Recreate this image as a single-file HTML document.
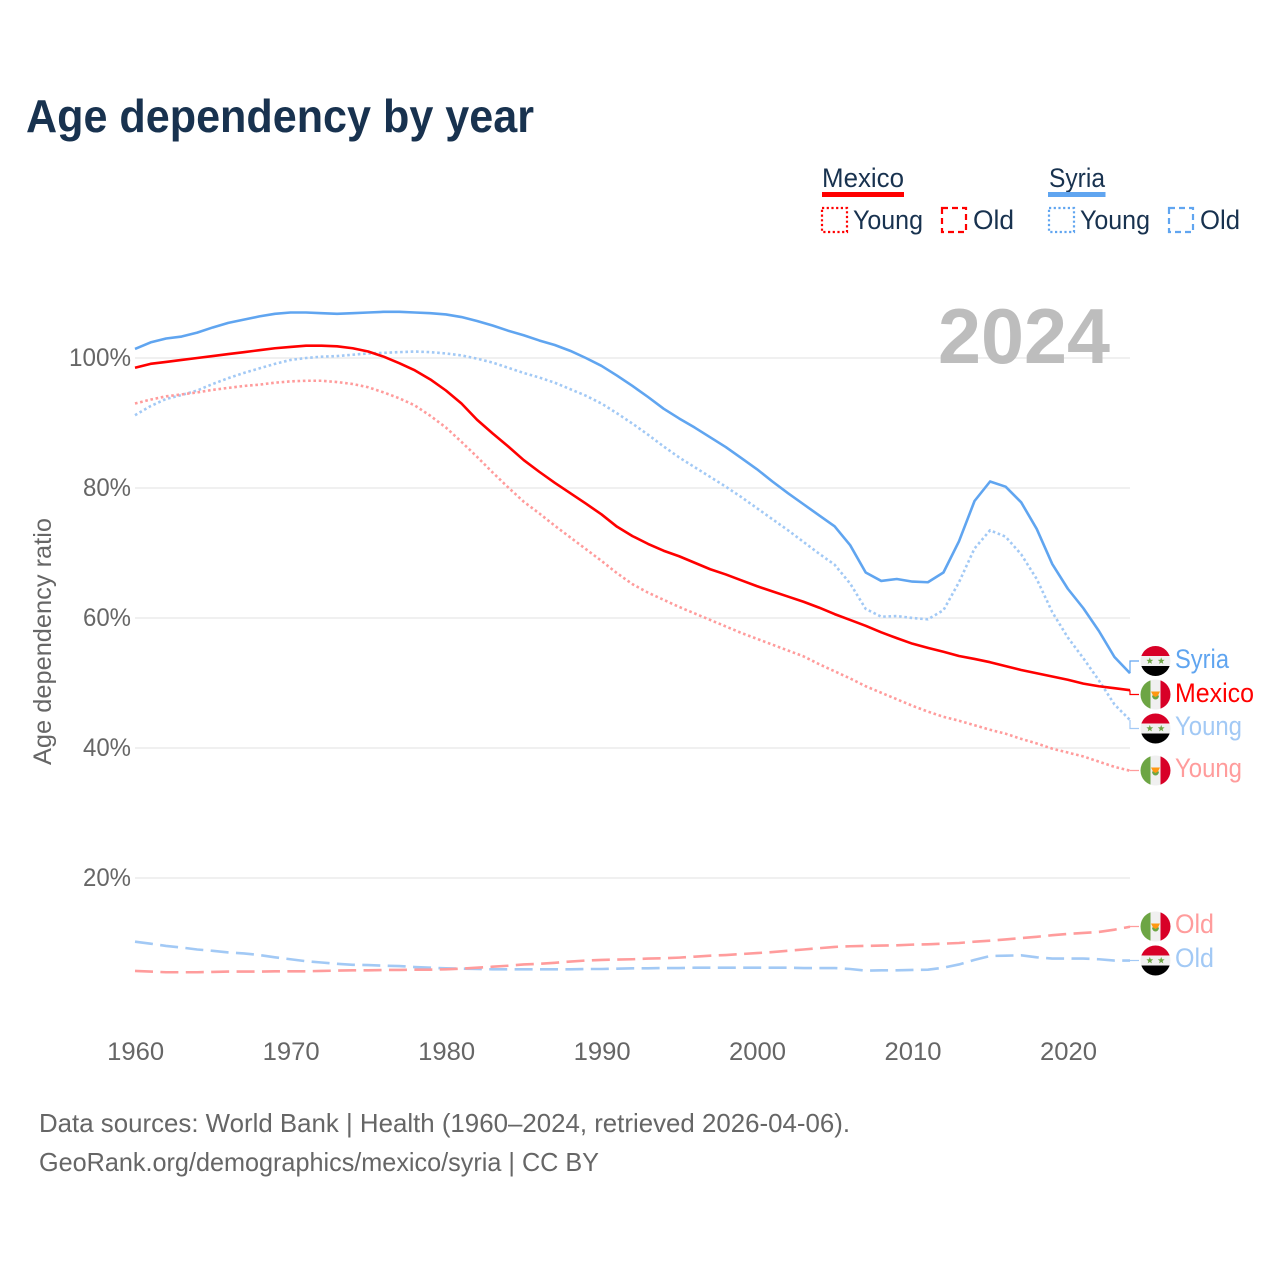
<!DOCTYPE html>
<html lang="en">
<head>
<meta charset="utf-8">
<title>Age dependency by year</title>
<style>
html,body{margin:0;padding:0;background:#fff;}
svg{display:block;font-family:"Liberation Sans",sans-serif;}
</style>
</head>
<body>
<svg id="chart" xmlns="http://www.w3.org/2000/svg" width="1280" height="1280" viewBox="0 0 1280 1280">
  <defs>
    <clipPath id="flag-clip"><circle cx="0" cy="0" r="15"></circle></clipPath>
  </defs>
  <rect x="0" y="0" width="1280" height="1280" fill="#ffffff"></rect>
  <text x="26" y="132" font-size="46" font-weight="700" fill="#18324f" textLength="508" lengthAdjust="spacingAndGlyphs">Age dependency by year</text>

  <g>
    <g>
      <text x="822" y="187" font-size="27" fill="#18324f" textLength="82" lengthAdjust="spacingAndGlyphs">Mexico</text>
      <rect x="822" y="192" width="82" height="5" fill="#ff0000"></rect>
      <rect x="822" y="208" width="25" height="24" fill="none" stroke="#ff0000" stroke-width="2.2" stroke-dasharray="2.2 2.5"></rect>
      <text x="853" y="229" font-size="27" fill="#18324f" textLength="70" lengthAdjust="spacingAndGlyphs">Young</text>
      <rect x="942" y="208" width="24" height="24" fill="none" stroke="#ff0000" stroke-width="2.2" stroke-dasharray="6 4"></rect>
      <text x="973" y="229" font-size="27" fill="#18324f" textLength="41" lengthAdjust="spacingAndGlyphs">Old</text>
    </g>
    <g>
      <text x="1049" y="187" font-size="27" fill="#18324f" textLength="56" lengthAdjust="spacingAndGlyphs">Syria</text>
      <rect x="1048" y="192" width="57.500" height="5" fill="#60a5f0"></rect>
      <rect x="1049" y="208" width="25" height="24" fill="none" stroke="#60a5f0" stroke-width="2.2" stroke-dasharray="2.2 2.5"></rect>
      <text x="1080" y="229" font-size="27" fill="#18324f" textLength="70" lengthAdjust="spacingAndGlyphs">Young</text>
      <rect x="1169" y="208" width="24" height="24" fill="none" stroke="#60a5f0" stroke-width="2.2" stroke-dasharray="6 4"></rect>
      <text x="1200" y="229" font-size="27" fill="#18324f" textLength="40" lengthAdjust="spacingAndGlyphs">Old</text>
    </g>
  </g>

  <g id="grid"></g>
  <text x="938" y="363" font-size="78" font-weight="700" fill="#bdbdbd" textLength="172" lengthAdjust="spacingAndGlyphs">2024</text>
  <text transform="translate(51 765) rotate(-90)" x="0" y="0" font-size="25" fill="#666666" textLength="247" lengthAdjust="spacingAndGlyphs">Age dependency ratio</text>
  <g id="y-ticks"></g>
  <g id="x-ticks"></g>
  <g id="series"></g>
  <g id="end-labels"></g>

  <text x="39" y="1132" font-size="26" fill="#666666" textLength="811" lengthAdjust="spacingAndGlyphs">Data sources: World Bank | Health (1960–2024, retrieved 2026-04-06).</text>
  <text x="39" y="1171" font-size="26" fill="#666666" textLength="560" lengthAdjust="spacingAndGlyphs">GeoRank.org/demographics/mexico/syria | CC BY</text>
</svg>
<script>
const years = [1960,1961,1962,1963,1964,1965,1966,1967,1968,1969,1970,1971,1972,1973,1974,1975,1976,1977,1978,1979,1980,1981,1982,1983,1984,1985,1986,1987,1988,1989,1990,1991,1992,1993,1994,1995,1996,1997,1998,1999,2000,2001,2002,2003,2004,2005,2006,2007,2008,2009,2010,2011,2012,2013,2014,2015,2016,2017,2018,2019,2020,2021,2022,2023,2024];
const syriaTotal = [101.4,102.4,103.0,103.3,103.9,104.7,105.4,105.9,106.4,106.8,107.0,107.0,106.9,106.8,106.9,107.0,107.1,107.1,107.0,106.9,106.7,106.3,105.7,105.0,104.2,103.5,102.7,102.0,101.1,100.0,98.8,97.3,95.7,94.0,92.2,90.7,89.3,87.8,86.3,84.6,82.9,81.0,79.2,77.5,75.8,74.1,71.2,67.0,65.7,66.0,65.6,65.5,67.0,71.8,78.0,81.0,80.2,77.8,73.7,68.3,64.5,61.5,58.0,54.0,51.5];
const mexicoTotal = [98.5,99.1,99.4,99.7,100.0,100.3,100.6,100.9,101.2,101.5,101.7,101.9,101.9,101.8,101.5,101.0,100.2,99.2,98.1,96.7,95.0,93.0,90.5,88.4,86.4,84.3,82.5,80.8,79.2,77.6,75.95,74.05,72.6,71.4,70.35,69.5,68.5,67.5,66.7,65.8,64.9,64.1,63.3,62.5,61.6,60.6,59.7,58.8,57.8,56.9,56.05,55.4,54.8,54.15,53.7,53.2,52.6,52.0,51.5,51.0,50.5,49.9,49.5,49.2,48.9];
const syriaYoung = [91.2,92.6,93.7,94.3,95.0,96.0,96.9,97.7,98.4,99.1,99.7,100.0,100.2,100.3,100.5,100.7,100.8,100.9,101.0,100.9,100.7,100.4,99.9,99.3,98.5,97.7,97.0,96.2,95.2,94.2,93.0,91.5,89.9,88.2,86.4,84.7,83.2,81.7,80.2,78.6,76.9,75.2,73.5,71.7,69.9,68.2,65.3,61.4,60.2,60.3,60.0,59.8,61.2,65.5,70.7,73.5,72.5,69.8,66.0,60.9,57.0,53.8,50.4,46.7,44.3];
const mexicoYoung = [93.0,93.6,94.1,94.4,94.7,95.1,95.4,95.7,95.9,96.2,96.4,96.5,96.5,96.3,96.0,95.5,94.7,93.8,92.7,91.1,89.3,87.1,84.8,82.4,80.1,77.9,76.1,74.2,72.4,70.6,68.8,66.9,65.2,63.9,62.8,61.7,60.7,59.7,58.7,57.7,56.8,55.9,55.0,54.1,52.9,51.8,50.7,49.5,48.5,47.5,46.5,45.6,44.8,44.2,43.5,42.8,42.2,41.4,40.7,39.9,39.3,38.7,37.9,37.1,36.5];
const syriaOld = [10.2,9.9,9.55,9.3,9.0,8.8,8.55,8.4,8.15,7.8,7.5,7.2,7.0,6.8,6.65,6.6,6.5,6.45,6.3,6.2,6.1,6.05,6.0,5.95,5.95,5.95,5.95,5.95,5.95,6.0,6.0,6.05,6.1,6.1,6.15,6.15,6.2,6.2,6.2,6.2,6.2,6.2,6.2,6.15,6.15,6.15,6.0,5.75,5.8,5.8,5.85,5.9,6.2,6.7,7.4,8.0,8.05,8.1,7.8,7.6,7.6,7.6,7.5,7.3,7.3];
const mexicoOld = [5.7,5.6,5.5,5.5,5.5,5.55,5.6,5.6,5.6,5.65,5.65,5.65,5.7,5.75,5.8,5.8,5.85,5.85,5.9,5.9,5.95,6.05,6.2,6.35,6.5,6.7,6.8,6.95,7.15,7.3,7.4,7.45,7.5,7.6,7.65,7.75,7.9,8.05,8.15,8.3,8.45,8.6,8.8,9.0,9.2,9.4,9.5,9.55,9.6,9.65,9.75,9.8,9.9,10.0,10.2,10.35,10.55,10.75,10.95,11.2,11.4,11.55,11.7,12.05,12.5];
const yTickValues = [20,40,60,80,100];
const xTickValues = [1960,1970,1980,1990,2000,2010,2020];

const NS = 'http://www.w3.org/2000/svg';
const RED = '#ff0000', BLUE = '#60a5f0', LIGHT_RED = '#ff9c9c', LIGHT_BLUE = '#a2c9f5';
const xScale = function (year) { return 135 + (year - 1960) * (1130 - 135) / 64; };
const yScale = function (value) { return 1008 - value * 6.5; };
const svgEl = function (tag, parent) {
  const el = document.createElementNS(NS, tag);
  parent.appendChild(el);
  return el;
};

const gridGroup = document.getElementById('grid');
const yTickGroup = document.getElementById('y-ticks');
yTickValues.forEach(function (value) {
  const line = svgEl('line', gridGroup);
  
  
  line.setAttribute('x1', 135);
  line.setAttribute('x2', 1130);
  line.setAttribute('y1', yScale(value));
  line.setAttribute('y2', yScale(value));
  line.setAttribute('stroke', '#e8e8e8');
  line.setAttribute('stroke-width', '1.2');
  const label = svgEl('text', yTickGroup);
  
  
  const text = value + '%';
  label.textContent = text;
  const width = value === 100 ? 62 : 48;
  label.setAttribute('x', 131 - width);
  label.setAttribute('y', yScale(value) + 8);
  label.setAttribute('font-size', '25');
  label.setAttribute('fill', '#666666');
  label.setAttribute('textLength', width);
  label.setAttribute('lengthAdjust', 'spacingAndGlyphs');
});

const xTickGroup = document.getElementById('x-ticks');
xTickValues.forEach(function (year) {
  const label = svgEl('text', xTickGroup);
  
  
  label.textContent = String(year);
  label.setAttribute('x', xScale(year) - 27.8);
  label.setAttribute('y', 1060);
  label.setAttribute('font-size', '25');
  label.setAttribute('fill', '#666666');
  label.setAttribute('textLength', 57);
  label.setAttribute('lengthAdjust', 'spacingAndGlyphs');
});

const seriesGroup = document.getElementById('series');
const drawLine = function (name, values, color, dash) {
  const line = svgEl('polyline', seriesGroup);
  
  
  line.setAttribute('points', values.map(function (value, i) {
    return xScale(years[i]).toFixed(2) + ',' + yScale(value).toFixed(2);
  }).join(' '));
  line.setAttribute('fill', 'none');
  line.setAttribute('stroke', color);
  line.setAttribute('stroke-width', '2.6');
  line.setAttribute('stroke-linejoin', 'round');
  if (dash) line.setAttribute('stroke-dasharray', dash);
};
drawLine('syria-old-line', syriaOld, LIGHT_BLUE, '18 7.4');
drawLine('mexico-old-line', mexicoOld, LIGHT_RED, '18 7.4');
drawLine('syria-young-line', syriaYoung, LIGHT_BLUE, '2.6 2.7');
drawLine('mexico-young-line', mexicoYoung, LIGHT_RED, '2.6 2.7');
drawLine('syria-total-line', syriaTotal, BLUE, null);
drawLine('mexico-total-line', mexicoTotal, RED, null);

const labelGroup = document.getElementById('end-labels');
const star = function (parent, cx) {
  const poly = svgEl('polygon', parent);
  
  
  const pts = [];
  for (let i = 0; i < 10; i++) {
    const r = i % 2 ? 1.5 : 3.6;
    const a = -Math.PI / 2 + i * Math.PI / 5;
    pts.push((cx + r * Math.cos(a)).toFixed(2) + ',' + (r * Math.sin(a)).toFixed(2));
  }
  poly.setAttribute('points', pts.join(' '));
  poly.setAttribute('fill', '#6da544');
};
const band = function (parent, x, y, w, h, fill) {
  const r = svgEl('rect', parent);
  
  
  r.setAttribute('x', x);
  r.setAttribute('y', y);
  r.setAttribute('width', w);
  r.setAttribute('height', h);
  r.setAttribute('fill', fill);
};
const drawFlag = function (country, cy) {
  const g = svgEl('g', labelGroup);
  
  
  g.setAttribute('transform', 'translate(1155.5 ' + cy + ')');
  const inner = svgEl('g', g);
  
  
  inner.setAttribute('clip-path', 'url(#flag-clip)');
  if (country === 'syria') {
    band(inner, -15, -15, 30, 10, '#d80027');
    band(inner, -15, -5, 30, 10, '#f0f0f0');
    band(inner, -15, 5, 30, 10, '#000000');
    star(inner, -5.7);
    star(inner, 5.7);
  } else {
    band(inner, -15, -15, 10, 30, '#6da544');
    band(inner, -5, -15, 10, 30, '#f0f0f0');
    band(inner, 5, -15, 10, 30, '#d80027');
    const base = svgEl('path', inner);
    
    
    base.setAttribute('d', 'M-3.5 1 A3.5 4 0 0 0 3.500 1 Z');
    base.setAttribute('fill', '#6da544');
    const wing = svgEl('path', inner);
    
    
    wing.setAttribute('d', 'M-4.500 -3 H4.500 L2.500 1 L0 2.500 L-2.500 1 Z');
    wing.setAttribute('fill', '#ff9811');
  }
};
const drawEndLabel = function (name, country, text, color, values, flagY, textY, textWidth) {
  const endX = xScale(years[years.length - 1]);
  const endY = yScale(values[values.length - 1]);
  const connector = svgEl('path', labelGroup);
  
  
  connector.setAttribute('d', 'M' + endX.toFixed(1) + ' ' + endY.toFixed(1) + ' V' + flagY + ' H1139');
  connector.setAttribute('fill', 'none');
  connector.setAttribute('stroke', color);
  connector.setAttribute('stroke-width', '1.2');
  drawFlag(country, flagY);
  const label = svgEl('text', labelGroup);
  
  
  label.textContent = text;
  label.setAttribute('x', 1175);
  label.setAttribute('y', textY);
  label.setAttribute('font-size', '27');
  label.setAttribute('fill', color);
  label.setAttribute('textLength', textWidth);
  label.setAttribute('lengthAdjust', 'spacingAndGlyphs');
};
drawEndLabel('syria-total', 'syria', 'Syria', BLUE, syriaTotal, 661, 668, 54);
drawEndLabel('mexico-total', 'mexico', 'Mexico', RED, mexicoTotal, 694.5, 702, 79);
drawEndLabel('syria-young', 'syria', 'Young', LIGHT_BLUE, syriaYoung, 728.5, 735, 67);
drawEndLabel('mexico-young', 'mexico', 'Young', LIGHT_RED, mexicoYoung, 770.5, 777, 67);
drawEndLabel('mexico-old', 'mexico', 'Old', LIGHT_RED, mexicoOld, 926.5, 933, 39);
drawEndLabel('syria-old', 'syria', 'Old', LIGHT_BLUE, syriaOld, 960.5, 967, 39);
</script>
</body>
</html>
